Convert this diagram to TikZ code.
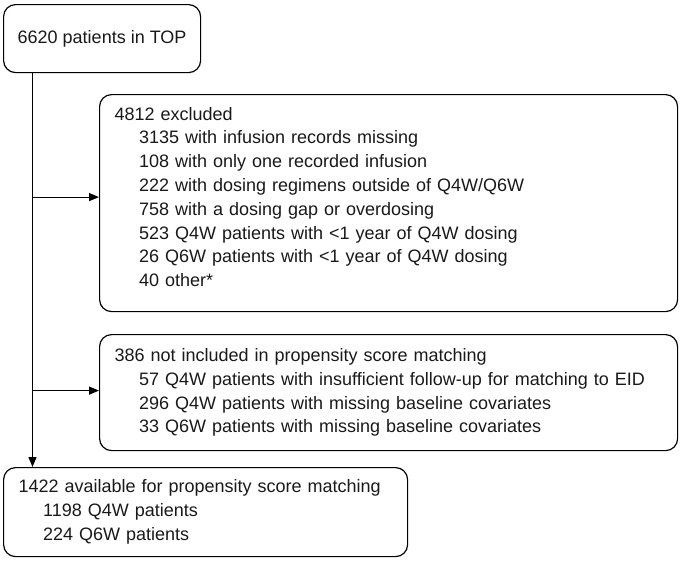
\documentclass[tikz,border=0pt]{standalone}
\usepackage{fontspec}
\setmainfont{Liberation Sans}
\usetikzlibrary{arrows.meta}

\newcommand{\ind}{\hspace*{24.5pt}}

\begin{document}
\begin{tikzpicture}[x=1pt,y=1pt,>={Triangle[length=10pt,width=8pt]},
    box/.style={draw,line width=1.2pt,rounded corners=12pt,anchor=north west,
      align=left,inner xsep=14pt,inner ysep=0pt,
      font=\fontsize{18}{23.8}\selectfont,text=black!90},
    flow/.style={->,line width=1.2pt}]

  \useasboundingbox (0,0) rectangle (681,-562);

  %--- boxes ---
  \node[box,minimum width=197pt,minimum height=68pt] (top) at (3,-4)
      {6620 patients in TOP};
  \node[box,minimum width=578pt,minimum height=217pt,text width=548pt] (excl) at (99,-94)
      {4812 excluded\\
       \ind 3135 with infusion records missing\\
       \ind 108 with only one recorded infusion\\
       \ind 222 with dosing regimens outside of Q4W/Q6W\\
       \ind 758 with a dosing gap or overdosing\\
       \ind 523 Q4W patients with {<}1 year of Q4W dosing\\
       \ind 26 Q6W patients with {<}1 year of Q4W dosing\\
       \ind 40 other*\rule[-12.5pt]{0pt}{0pt}};
  \node[box,minimum width=578pt,minimum height=116pt,text width=548pt] (notinc) at (99,-334)
      {386 not included in propensity score matching\\
       \ind 57 Q4W patients with insufficient follow-up for matching to EID\\
       \ind 296 Q4W patients with missing baseline covariates\\
       \ind 33 Q6W patients with missing baseline covariates};
  \node[box,minimum width=404pt,minimum height=89pt,text width=374pt] (avail) at (3,-467)
      {1422 available for propensity score matching\\
       \ind 1198 Q4W patients\\
       \ind 224 Q6W patients};

  %--- flow ---
  \coordinate (trunk) at (32.5,0);
  \draw[flow] (top.south -| trunk) -- (avail.north -| trunk);
  \draw[flow] ([yshift=6pt]excl.west -| trunk) -- ([yshift=6pt]excl.west);
  \draw[flow] ([yshift=2pt]notinc.west -| trunk) -- ([yshift=2pt]notinc.west);

\end{tikzpicture}
\end{document}
